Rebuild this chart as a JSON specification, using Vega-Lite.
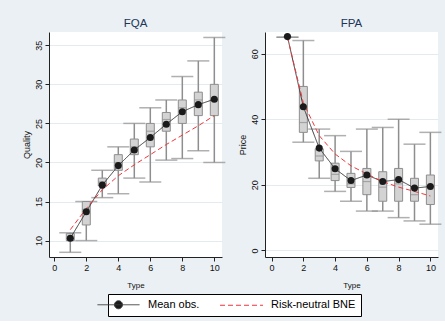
{
  "$schema": "https://vega.github.io/schema/vega-lite/v6.json",
  "background": "#eaf0f3",
  "padding": {"left": 22, "top": 17, "right": 4, "bottom": 4},
  "config": {
    "font": "Liberation Sans",
    "view": {"fill": "white", "stroke": null},
    "axis": {"domainColor": "#222222", "tickColor": "#222222", "tickSize": 4, "labelFontSize": 9, "labelColor": "#111111", "titleFontSize": 9, "titleFontWeight": "normal", "titleColor": "#111111", "grid": false, "labelPadding": 2},
    "axisY": {"grid": true, "gridColor": "#e4ebef", "labelAngle": -90, "titlePadding": 3},
    "axisX": {"titleFontSize": 8, "titlePadding": 9, "labelOverlap": false},
    "title": {"fontSize": 11.5, "fontWeight": "normal", "color": "#1c3559", "offset": 3, "anchor": "middle"}
  },
  "datasets": {
    "box": [
      {"p": "FQA", "t": 1, "lo": 8.5, "q1": 10, "med": 10, "q3": 10.9, "hi": 11},
      {"p": "FQA", "t": 2, "lo": 10, "q1": 12, "med": 14, "q3": 15, "hi": 15},
      {"p": "FQA", "t": 3, "lo": 15.5, "q1": 17, "med": 17.5, "q3": 18, "hi": 19},
      {"p": "FQA", "t": 4, "lo": 16, "q1": 19, "med": 20, "q3": 21, "hi": 22},
      {"p": "FQA", "t": 5, "lo": 18, "q1": 21, "med": 22, "q3": 23, "hi": 25},
      {"p": "FQA", "t": 6, "lo": 17.5, "q1": 22, "med": 24, "q3": 25, "hi": 27},
      {"p": "FQA", "t": 7, "lo": 20.3, "q1": 24, "med": 25.5, "q3": 26.4, "hi": 28},
      {"p": "FQA", "t": 8, "lo": 20.5, "q1": 25, "med": 27, "q3": 28, "hi": 31},
      {"p": "FQA", "t": 9, "lo": 21.5, "q1": 26, "med": 28, "q3": 29, "hi": 33},
      {"p": "FQA", "t": 10, "lo": 20, "q1": 26, "med": 28, "q3": 30, "hi": 36},
      {"p": "FPA", "t": 1, "lo": 65, "q1": 65, "med": 65, "q3": 65, "hi": 65},
      {"p": "FPA", "t": 2, "lo": 33, "q1": 36, "med": 39, "q3": 50, "hi": 64},
      {"p": "FPA", "t": 3, "lo": 22, "q1": 27.3, "med": 28.8, "q3": 31, "hi": 37},
      {"p": "FPA", "t": 4, "lo": 18, "q1": 21.3, "med": 23.2, "q3": 26.6, "hi": 35},
      {"p": "FPA", "t": 5, "lo": 15, "q1": 19.2, "med": 20.3, "q3": 23.5, "hi": 30.2},
      {"p": "FPA", "t": 6, "lo": 12, "q1": 17, "med": 21, "q3": 25, "hi": 37},
      {"p": "FPA", "t": 7, "lo": 12, "q1": 15, "med": 19.3, "q3": 24, "hi": 37.5},
      {"p": "FPA", "t": 8, "lo": 10, "q1": 15, "med": 20.3, "q3": 25, "hi": 40},
      {"p": "FPA", "t": 9, "lo": 9, "q1": 15, "med": 17, "q3": 22, "hi": 32.4},
      {"p": "FPA", "t": 10, "lo": 8, "q1": 14, "med": 19.5, "q3": 23, "hi": 36}
    ],
    "lines": [
      {"p": "FQA", "s": "Mean obs.", "t": 1, "v": 10.3},
      {"p": "FQA", "s": "Mean obs.", "t": 2, "v": 13.7},
      {"p": "FQA", "s": "Mean obs.", "t": 3, "v": 17.1},
      {"p": "FQA", "s": "Mean obs.", "t": 4, "v": 19.6},
      {"p": "FQA", "s": "Mean obs.", "t": 5, "v": 21.6},
      {"p": "FQA", "s": "Mean obs.", "t": 6, "v": 23.2},
      {"p": "FQA", "s": "Mean obs.", "t": 7, "v": 24.9},
      {"p": "FQA", "s": "Mean obs.", "t": 8, "v": 26.5},
      {"p": "FQA", "s": "Mean obs.", "t": 9, "v": 27.4},
      {"p": "FQA", "s": "Mean obs.", "t": 10, "v": 28.1},
      {"p": "FQA", "s": "Risk-neutral BNE", "t": 1, "v": 11.4},
      {"p": "FQA", "s": "Risk-neutral BNE", "t": 2, "v": 14.1},
      {"p": "FQA", "s": "Risk-neutral BNE", "t": 3, "v": 16.5},
      {"p": "FQA", "s": "Risk-neutral BNE", "t": 4, "v": 18.3},
      {"p": "FQA", "s": "Risk-neutral BNE", "t": 5, "v": 19.7},
      {"p": "FQA", "s": "Risk-neutral BNE", "t": 6, "v": 21.0},
      {"p": "FQA", "s": "Risk-neutral BNE", "t": 7, "v": 22.3},
      {"p": "FQA", "s": "Risk-neutral BNE", "t": 8, "v": 23.5},
      {"p": "FQA", "s": "Risk-neutral BNE", "t": 9, "v": 24.7},
      {"p": "FQA", "s": "Risk-neutral BNE", "t": 10, "v": 26.0},
      {"p": "FPA", "s": "Mean obs.", "t": 1, "v": 65.2},
      {"p": "FPA", "s": "Mean obs.", "t": 2, "v": 43.8},
      {"p": "FPA", "s": "Mean obs.", "t": 3, "v": 31.2},
      {"p": "FPA", "s": "Mean obs.", "t": 4, "v": 24.9},
      {"p": "FPA", "s": "Mean obs.", "t": 5, "v": 21.3},
      {"p": "FPA", "s": "Mean obs.", "t": 6, "v": 23.0},
      {"p": "FPA", "s": "Mean obs.", "t": 7, "v": 21.0},
      {"p": "FPA", "s": "Mean obs.", "t": 8, "v": 21.6},
      {"p": "FPA", "s": "Mean obs.", "t": 9, "v": 19.0},
      {"p": "FPA", "s": "Mean obs.", "t": 10, "v": 19.5},
      {"p": "FPA", "s": "Risk-neutral BNE", "t": 1, "v": 65.0},
      {"p": "FPA", "s": "Risk-neutral BNE", "t": 2, "v": 45.0},
      {"p": "FPA", "s": "Risk-neutral BNE", "t": 3, "v": 35.0},
      {"p": "FPA", "s": "Risk-neutral BNE", "t": 4, "v": 29.4},
      {"p": "FPA", "s": "Risk-neutral BNE", "t": 5, "v": 25.8},
      {"p": "FPA", "s": "Risk-neutral BNE", "t": 6, "v": 23.3},
      {"p": "FPA", "s": "Risk-neutral BNE", "t": 7, "v": 21.0},
      {"p": "FPA", "s": "Risk-neutral BNE", "t": 8, "v": 19.3},
      {"p": "FPA", "s": "Risk-neutral BNE", "t": 9, "v": 18.0},
      {"p": "FPA", "s": "Risk-neutral BNE", "t": 10, "v": 16.6}
    ]
  },
  "bounds": "flush",
  "spacing": 43,
  "resolve": {"scale": {"x": "independent", "y": "independent"}},
  "hconcat": [
    {
      "width": 173, "height": 225,
      "title": {"text": "FQA"},
      "encoding": {
        "x": {"field": "t", "type": "quantitative", "scale": {"domain": [-0.33, 10.48], "nice": false, "zero": false, "padding": 0}, "axis": {"values": [0, 2, 4, 6, 8, 10], "labelOverlap": false, "labelBound": false, "labelFlush": false, "labelAngle": 0}, "title": "Type"}
      },
      "layer": [
        {
          "data": {"name": "box"}, "transform": [{"filter": "datum.p === 'FQA'"}],
          "mark": {"type": "rule", "color": "#8e8e8e", "strokeWidth": 1.5},
          "encoding": {
            "y": {"field": "lo", "type": "quantitative", "scale": {"domain": [7.9, 36.7], "nice": false, "zero": false, "padding": 0}, "axis": {"values": [10, 15, 20, 25, 30, 35], "labelOverlap": false}, "title": "Quality"},
            "y2": {"field": "hi"}
          }
        },
        {
          "data": {"name": "box"}, "transform": [{"filter": "datum.p === 'FQA'"}],
          "mark": {"type": "tick", "orient": "horizontal", "color": "#8e8e8e", "size": 22, "thickness": 1.5},
          "encoding": {"y": {"field": "lo", "type": "quantitative"}}
        },
        {
          "data": {"name": "box"}, "transform": [{"filter": "datum.p === 'FQA'"}],
          "mark": {"type": "tick", "orient": "horizontal", "color": "#8e8e8e", "size": 22, "thickness": 1.5},
          "encoding": {"y": {"field": "hi", "type": "quantitative"}}
        },
        {
          "data": {"name": "box"}, "transform": [{"filter": "datum.p === 'FQA'"}],
          "mark": {"type": "bar", "size": 8, "fill": "#d3d3d3", "stroke": "#8e8e8e", "strokeWidth": 1},
          "encoding": {"y": {"field": "q1", "type": "quantitative"}, "y2": {"field": "q3"}}
        },
        {
          "data": {"name": "box"}, "transform": [{"filter": "datum.p === 'FQA'"}],
          "mark": {"type": "tick", "orient": "horizontal", "color": "#8e8e8e", "size": 8, "thickness": 1.2},
          "encoding": {"y": {"field": "med", "type": "quantitative"}}
        },
        {
          "data": {"name": "lines"}, "transform": [{"filter": "datum.p === 'FQA'"}],
          "mark": {"type": "line", "strokeWidth": 1},
          "encoding": {
            "y": {"field": "v", "type": "quantitative"},
            "color": {"field": "s", "type": "nominal", "scale": {"domain": ["Mean obs.", "Risk-neutral BNE"], "range": ["#3a3a3a", "#f0363c"]},
              "legend": {
                "title": null, "orient": "none", "legendX": 59, "legendY": 262, "direction": "horizontal",
                "strokeColor": "#000000", "fillColor": "#ffffff", "padding": 5, "labelFontSize": 11, "labelColor": "#000000", "labelOffset": 24, "columnPadding": 18, "symbolSize": 100, "symbolStrokeWidth": 1,
                "encode": {"symbols": {"update": {
                  "shape": {"signal": "datum.value === 'Mean obs.' ? 'M-4.2,0H4.2M0.8,0A0.8,0.8,0,1,1,-0.8,0A0.8,0.8,0,1,1,0.8,0Z' : 'M-4.3,0H4.3'"},
                  "fill": {"signal": "datum.value === 'Mean obs.' ? '#1a1a1a' : 'transparent'"},
                  "strokeDash": {"signal": "datum.value === 'Mean obs.' ? [1,0] : [5,3]"}
                }}}
              }
            },
            "strokeDash": {"field": "s", "type": "nominal", "scale": {"domain": ["Mean obs.", "Risk-neutral BNE"], "range": [[1, 0], [5, 3]]}}
          }
        },
        {
          "data": {"name": "lines"}, "transform": [{"filter": "datum.p === 'FQA' && datum.s === 'Mean obs.'"}],
          "mark": {"type": "point", "shape": "circle", "filled": true, "opacity": 1, "color": "#1a1a1a", "size": 50},
          "encoding": {"y": {"field": "v", "type": "quantitative"}}
        }
      ]
    },
    {
      "width": 173, "height": 225,
      "title": {"text": "FPA"},
      "encoding": {
        "x": {"field": "t", "type": "quantitative", "scale": {"domain": [-0.415, 10.48], "nice": false, "zero": false, "padding": 0}, "axis": {"values": [0, 2, 4, 6, 8, 10], "labelOverlap": false, "labelBound": false, "labelFlush": false, "labelAngle": 0}, "title": "Type"}
      },
      "layer": [
        {
          "data": {"name": "box"}, "transform": [{"filter": "datum.p === 'FPA'"}],
          "mark": {"type": "rule", "color": "#8e8e8e", "strokeWidth": 1.5},
          "encoding": {
            "y": {"field": "lo", "type": "quantitative", "scale": {"domain": [-2, 66.6], "nice": false, "zero": false, "padding": 0}, "axis": {"values": [0, 20, 40, 60], "labelOverlap": false}, "title": "Price"},
            "y2": {"field": "hi"}
          }
        },
        {
          "data": {"name": "box"}, "transform": [{"filter": "datum.p === 'FPA'"}],
          "mark": {"type": "tick", "orient": "horizontal", "color": "#8e8e8e", "size": 22, "thickness": 1.5},
          "encoding": {"y": {"field": "lo", "type": "quantitative"}}
        },
        {
          "data": {"name": "box"}, "transform": [{"filter": "datum.p === 'FPA'"}],
          "mark": {"type": "tick", "orient": "horizontal", "color": "#8e8e8e", "size": 22, "thickness": 1.5},
          "encoding": {"y": {"field": "hi", "type": "quantitative"}}
        },
        {
          "data": {"name": "box"}, "transform": [{"filter": "datum.p === 'FPA'"}],
          "mark": {"type": "bar", "size": 8, "fill": "#d3d3d3", "stroke": "#8e8e8e", "strokeWidth": 1},
          "encoding": {"y": {"field": "q1", "type": "quantitative"}, "y2": {"field": "q3"}}
        },
        {
          "data": {"name": "box"}, "transform": [{"filter": "datum.p === 'FPA'"}],
          "mark": {"type": "tick", "orient": "horizontal", "color": "#8e8e8e", "size": 8, "thickness": 1.2},
          "encoding": {"y": {"field": "med", "type": "quantitative"}}
        },
        {
          "data": {"name": "lines"}, "transform": [{"filter": "datum.p === 'FPA'"}],
          "mark": {"type": "line", "strokeWidth": 1},
          "encoding": {
            "y": {"field": "v", "type": "quantitative"},
            "color": {"field": "s", "type": "nominal", "scale": {"domain": ["Mean obs.", "Risk-neutral BNE"], "range": ["#3a3a3a", "#f0363c"]}},
            "strokeDash": {"field": "s", "type": "nominal", "scale": {"domain": ["Mean obs.", "Risk-neutral BNE"], "range": [[1, 0], [5, 3]]}}
          }
        },
        {
          "data": {"name": "lines"}, "transform": [{"filter": "datum.p === 'FPA' && datum.s === 'Mean obs.'"}],
          "mark": {"type": "point", "shape": "circle", "filled": true, "opacity": 1, "color": "#1a1a1a", "size": 50},
          "encoding": {"y": {"field": "v", "type": "quantitative"}}
        }
      ]
    }
  ]
}
